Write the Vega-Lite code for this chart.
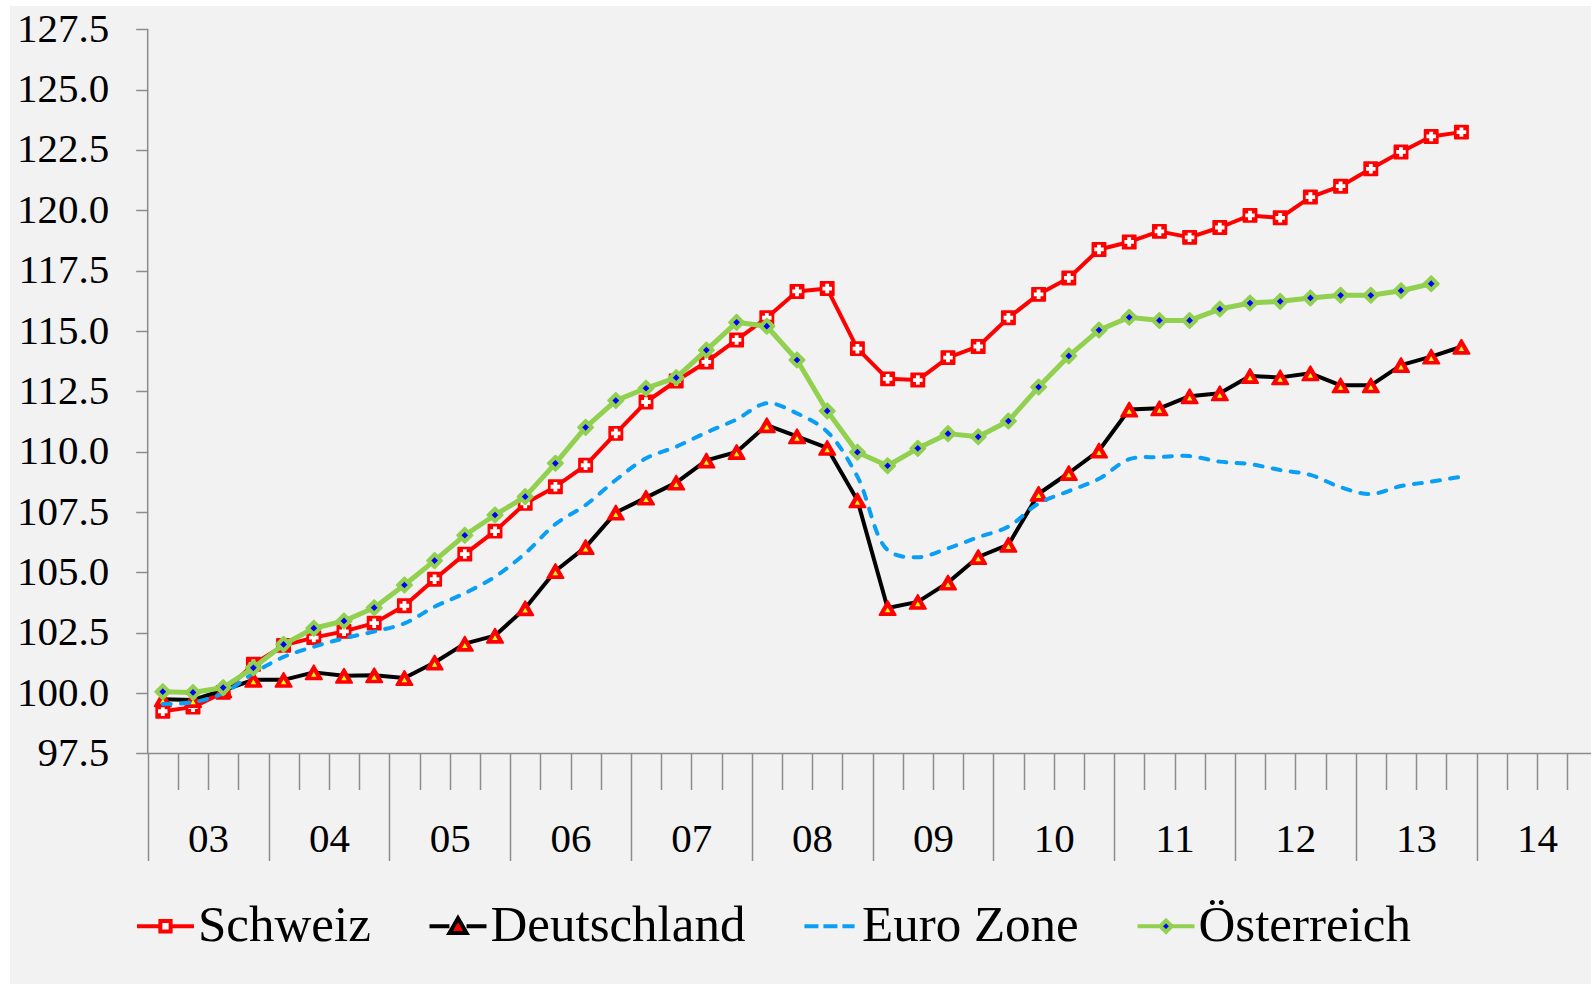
{
  "$schema": "https://vega.github.io/schema/vega-lite/v6.json",
  "width": 1581,
  "height": 978,
  "autosize": {"type": "none"},
  "padding": {"left": 10, "top": 6, "right": 0, "bottom": 0},
  "background": "white",
  "config": {
    "view": {"fill": "#f2f2f2", "stroke": null},
    "font": "Liberation Serif",
    "axis": {"labelFont": "Liberation Serif", "labelColor": "black", "labelFontSize": 41, "domain": false, "grid": false, "tickColor": "#8c8c8c", "tickWidth": 1.5}
  },
  "datasets": {
    "d": [
      {"t": 2003.125, "Schweiz": 99.25, "Deutschland": 99.75, "Euro Zone": 99.55, "Österreich": 100.06},
      {"t": 2003.375, "Schweiz": 99.42, "Deutschland": 99.72, "Euro Zone": 99.62, "Österreich": 100.03},
      {"t": 2003.625, "Schweiz": 100.03, "Deutschland": 100.12, "Euro Zone": 100.0, "Österreich": 100.23},
      {"t": 2003.875, "Schweiz": 101.2, "Deutschland": 100.55, "Euro Zone": 100.82, "Österreich": 101.05},
      {"t": 2004.125, "Schweiz": 101.98, "Deutschland": 100.55, "Euro Zone": 101.5, "Österreich": 102.02},
      {"t": 2004.375, "Schweiz": 102.3, "Deutschland": 100.86, "Euro Zone": 101.92, "Österreich": 102.69},
      {"t": 2004.625, "Schweiz": 102.56, "Deutschland": 100.72, "Euro Zone": 102.27, "Österreich": 102.99},
      {"t": 2004.875, "Schweiz": 102.9, "Deutschland": 100.74, "Euro Zone": 102.55, "Österreich": 103.54},
      {"t": 2005.125, "Schweiz": 103.62, "Deutschland": 100.63, "Euro Zone": 102.89, "Österreich": 104.48},
      {"t": 2005.375, "Schweiz": 104.72, "Deutschland": 101.27, "Euro Zone": 103.58, "Österreich": 105.49},
      {"t": 2005.625, "Schweiz": 105.76, "Deutschland": 102.05, "Euro Zone": 104.14, "Österreich": 106.54},
      {"t": 2005.875, "Schweiz": 106.71, "Deutschland": 102.38, "Euro Zone": 104.82, "Österreich": 107.38},
      {"t": 2006.125, "Schweiz": 107.86, "Deutschland": 103.52, "Euro Zone": 105.79, "Österreich": 108.14},
      {"t": 2006.375, "Schweiz": 108.55, "Deutschland": 105.06, "Euro Zone": 107.0, "Österreich": 109.52},
      {"t": 2006.625, "Schweiz": 109.44, "Deutschland": 106.05, "Euro Zone": 107.79, "Österreich": 111.01},
      {"t": 2006.875, "Schweiz": 110.76, "Deutschland": 107.48, "Euro Zone": 108.83, "Österreich": 112.12},
      {"t": 2007.125, "Schweiz": 112.06, "Deutschland": 108.1, "Euro Zone": 109.73, "Österreich": 112.63},
      {"t": 2007.375, "Schweiz": 112.93, "Deutschland": 108.72, "Euro Zone": 110.21, "Österreich": 113.07},
      {"t": 2007.625, "Schweiz": 113.72, "Deutschland": 109.64, "Euro Zone": 110.8, "Österreich": 114.21},
      {"t": 2007.875, "Schweiz": 114.63, "Deutschland": 109.99, "Euro Zone": 111.34, "Österreich": 115.36},
      {"t": 2008.125, "Schweiz": 115.55, "Deutschland": 111.1, "Euro Zone": 112.01, "Österreich": 115.2},
      {"t": 2008.375, "Schweiz": 116.64, "Deutschland": 110.64, "Euro Zone": 111.59, "Österreich": 113.8},
      {"t": 2008.625, "Schweiz": 116.76, "Deutschland": 110.16, "Euro Zone": 110.83, "Österreich": 111.69},
      {"t": 2008.875, "Schweiz": 114.27, "Deutschland": 107.99, "Euro Zone": 108.97, "Österreich": 109.98},
      {"t": 2009.125, "Schweiz": 113.02, "Deutschland": 103.53, "Euro Zone": 105.93, "Österreich": 109.42},
      {"t": 2009.375, "Schweiz": 112.97, "Deutschland": 103.78, "Euro Zone": 105.63, "Österreich": 110.14},
      {"t": 2009.625, "Schweiz": 113.9, "Deutschland": 104.58, "Euro Zone": 106.0, "Österreich": 110.75},
      {"t": 2009.875, "Schweiz": 114.36, "Deutschland": 105.64, "Euro Zone": 106.46, "Österreich": 110.62},
      {"t": 2010.125, "Schweiz": 115.55, "Deutschland": 106.15, "Euro Zone": 106.9, "Österreich": 111.27},
      {"t": 2010.375, "Schweiz": 116.52, "Deutschland": 108.26, "Euro Zone": 107.86, "Österreich": 112.68},
      {"t": 2010.625, "Schweiz": 117.2, "Deutschland": 109.12, "Euro Zone": 108.37, "Österreich": 113.97},
      {"t": 2010.875, "Schweiz": 118.38, "Deutschland": 110.05, "Euro Zone": 108.88, "Österreich": 115.04},
      {"t": 2011.125, "Schweiz": 118.69, "Deutschland": 111.75, "Euro Zone": 109.69, "Österreich": 115.57},
      {"t": 2011.375, "Schweiz": 119.13, "Deutschland": 111.8, "Euro Zone": 109.78, "Österreich": 115.44},
      {"t": 2011.625, "Schweiz": 118.88, "Deutschland": 112.3, "Euro Zone": 109.82, "Österreich": 115.44},
      {"t": 2011.875, "Schweiz": 119.29, "Deutschland": 112.42, "Euro Zone": 109.59, "Österreich": 115.91},
      {"t": 2012.125, "Schweiz": 119.79, "Deutschland": 113.14, "Euro Zone": 109.49, "Österreich": 116.16},
      {"t": 2012.375, "Schweiz": 119.69, "Deutschland": 113.08, "Euro Zone": 109.24, "Österreich": 116.23},
      {"t": 2012.625, "Schweiz": 120.55, "Deutschland": 113.25, "Euro Zone": 109.04, "Österreich": 116.37},
      {"t": 2012.875, "Schweiz": 121.0, "Deutschland": 112.75, "Euro Zone": 108.53, "Österreich": 116.48},
      {"t": 2013.125, "Schweiz": 121.72, "Deutschland": 112.75, "Euro Zone": 108.25, "Österreich": 116.48},
      {"t": 2013.375, "Schweiz": 122.42, "Deutschland": 113.59, "Euro Zone": 108.58, "Österreich": 116.67},
      {"t": 2013.625, "Schweiz": 123.06, "Deutschland": 113.94, "Euro Zone": 108.76, "Österreich": 116.96},
      {"t": 2013.875, "Schweiz": 123.24, "Deutschland": 114.35, "Euro Zone": 108.97, "Österreich": null}
    ]
  },
  "layer": [
    {
      "data": {"name": "d"},
      "encoding": {
        "x": {
          "field": "t", "type": "quantitative",
          "scale": {"domain": [2001.8601, 2014.9478], "zero": false, "nice": false},
          "axis": {
            "title": null, "orient": "bottom", "offset": -230.5,
            "values": [2003, 2003.25, 2003.5, 2003.75, 2004, 2004.25, 2004.5, 2004.75, 2005, 2005.25, 2005.5, 2005.75, 2006, 2006.25, 2006.5, 2006.75, 2007, 2007.25, 2007.5, 2007.75, 2008, 2008.25, 2008.5, 2008.75, 2009, 2009.25, 2009.5, 2009.75, 2010, 2010.25, 2010.5, 2010.75, 2011, 2011.25, 2011.5, 2011.75, 2012, 2012.25, 2012.5, 2012.75, 2013, 2013.25, 2013.5, 2013.75, 2014, 2014.25, 2014.5, 2014.75],
            "tickSize": {"condition": {"test": "datum.value % 1 === 0", "value": 107}, "value": 36},
            "labelExpr": "datum.value % 1 === 0.5 ? format(floor(datum.value) % 100, '02d') : ''",
            "labelOverlap": false, "labelFlush": false, "labelPadding": 30, "labelBaseline": "top"
          }
        },
        "y": {
          "field": "v", "type": "quantitative",
          "scale": {"domain": [87.951, 128.465], "zero": false, "nice": false},
          "axis": {
            "title": null, "orient": "left", "offset": -137.7,
            "values": [97.5, 100, 102.5, 105, 107.5, 110, 112.5, 115, 117.5, 120, 122.5, 125, 127.5],
            "format": ".1f", "tickSize": 12, "labelPadding": 27
          }
        }
      },
      "layer": [
        {
          "transform": [
            {"fold": ["Schweiz", "Deutschland", "Euro Zone", "Österreich"], "as": ["series", "v"]},
            {"filter": "false"}
          ],
          "mark": {"type": "point", "filled": false},
          "encoding": {
            "color": {
              "field": "series", "type": "nominal",
              "scale": {"domain": ["Schweiz", "Deutschland", "Euro Zone", "Österreich"], "range": ["#ff0000", "#000000", "#0a9ef5", "#92d050"]},
              "legend": {
                "orient": "none", "legendX": 125, "legendY": 889.5, "direction": "horizontal", "title": null,
                "labelFont": "Liberation Serif", "labelFontSize": 51, "labelColor": "black", "labelLimit": 600, "labelOffset": 2,
                "symbolSize": 3249, "symbolStrokeWidth": 4, "symbolOpacity": 1, "columnPadding": 50.5, "padding": 0
              }
            },
            "fill": {
              "field": "series", "type": "nominal",
              "scale": {"domain": ["Schweiz", "Deutschland", "Euro Zone", "Österreich"], "range": ["#ffffff", "#ff0000", "transparent", "#0000ff"]}
            },
            "shape": {
              "field": "series", "type": "nominal",
              "scale": {"domain": ["Schweiz", "Deutschland", "Euro Zone", "Österreich"], "range": [
                "M-1,0H-0.18M0.18,0H1M-0.18,-0.18H0.18V0.18H-0.18Z",
                "M-1,0H-0.3M0.3,0H1M-0.3,0.24L0,-0.28L0.3,0.24Z",
                "M-0.88,0H0.88",
                "M-1,0H-0.22M0.22,0H1M-0.2,0L0,-0.2L0.2,0L0,0.2Z"
              ]}
            },
            "strokeDash": {
              "field": "series", "type": "nominal",
              "scale": {"domain": ["Schweiz", "Deutschland", "Euro Zone", "Österreich"], "range": [[1, 0], [1, 0], [14, 5], [1, 0]]}
            }
          }
        },
        {
          "transform": [{"fold": ["Schweiz"], "as": ["series", "v"]}],
          "mark": {"type": "line", "strokeWidth": 4, "strokeJoin": "round"},
          "encoding": {"color": {"field": "series", "type": "nominal", "scale": {"domain": ["Schweiz", "Deutschland", "Euro Zone", "Österreich"], "range": ["#ff0000", "#000000", "#0a9ef5", "#92d050"]}}}
        },
        {
          "transform": [{"fold": ["Schweiz"], "as": ["series", "v"]}],
          "mark": {"type": "point", "shape": "square", "filled": true, "color": "#ff0000", "stroke": "#ff0000", "strokeWidth": 1.5, "strokeJoin": "round", "size": 180, "opacity": 1}
        },
        {
          "transform": [{"fold": ["Schweiz"], "as": ["series", "v"]}],
          "mark": {"type": "point", "shape": "cross", "filled": true, "color": "#ffffff", "size": 90, "opacity": 1}
        },
        {
          "transform": [{"fold": ["Deutschland"], "as": ["series", "v"]}],
          "mark": {"type": "line", "strokeWidth": 4, "strokeJoin": "round"},
          "encoding": {"color": {"field": "series", "type": "nominal", "scale": {"domain": ["Schweiz", "Deutschland", "Euro Zone", "Österreich"], "range": ["#ff0000", "#000000", "#0a9ef5", "#92d050"]}}}
        },
        {
          "transform": [{"fold": ["Deutschland"], "as": ["series", "v"]}],
          "mark": {"type": "point", "shape": "triangle-up", "filled": true, "color": "#ff0000", "stroke": "#ff0000", "strokeWidth": 2, "strokeJoin": "round", "size": 260, "opacity": 1}
        },
        {
          "transform": [{"fold": ["Deutschland"], "as": ["series", "v"]}],
          "mark": {"type": "point", "shape": "triangle-up", "filled": true, "color": "#ffff00", "size": 30, "yOffset": 2, "opacity": 1}
        },
        {
          "transform": [{"fold": ["Euro Zone"], "as": ["series", "v"]}],
          "mark": {"type": "line", "strokeWidth": 4, "interpolate": "catmull-rom", "strokeDash": [8, 10.3], "strokeCap": "round"},
          "encoding": {"color": {"field": "series", "type": "nominal", "scale": {"domain": ["Schweiz", "Deutschland", "Euro Zone", "Österreich"], "range": ["#ff0000", "#000000", "#0a9ef5", "#92d050"]}}}
        },
        {
          "transform": [{"fold": ["Österreich"], "as": ["series", "v"]}, {"filter": "datum.v != null"}],
          "mark": {"type": "line", "strokeWidth": 5, "strokeJoin": "round"},
          "encoding": {"color": {"field": "series", "type": "nominal", "scale": {"domain": ["Schweiz", "Deutschland", "Euro Zone", "Österreich"], "range": ["#ff0000", "#000000", "#0a9ef5", "#92d050"]}}}
        },
        {
          "transform": [{"fold": ["Österreich"], "as": ["series", "v"]}, {"filter": "datum.v != null"}],
          "mark": {"type": "point", "shape": "diamond", "filled": true, "color": "#92d050", "stroke": "#92d050", "strokeWidth": 2, "strokeJoin": "round", "size": 230, "opacity": 1}
        },
        {
          "transform": [{"fold": ["Österreich"], "as": ["series", "v"]}, {"filter": "datum.v != null"}],
          "mark": {"type": "point", "shape": "diamond", "filled": true, "color": "#0000ff", "size": 45, "opacity": 1}
        }
      ]
    },
    {
      "data": {"values": [{}]},
      "mark": {"type": "rule", "color": "#8c8c8c", "strokeWidth": 1.5},
      "encoding": {
        "x": {
          "datum": 2003, "type": "quantitative",
          "scale": {"domain": [2001.8601, 2014.9478], "zero": false, "nice": false},
          "axis": {
            "title": null, "orient": "bottom", "offset": -230.5,
            "values": [2003, 2003.25, 2003.5, 2003.75, 2004, 2004.25, 2004.5, 2004.75, 2005, 2005.25, 2005.5, 2005.75, 2006, 2006.25, 2006.5, 2006.75, 2007, 2007.25, 2007.5, 2007.75, 2008, 2008.25, 2008.5, 2008.75, 2009, 2009.25, 2009.5, 2009.75, 2010, 2010.25, 2010.5, 2010.75, 2011, 2011.25, 2011.5, 2011.75, 2012, 2012.25, 2012.5, 2012.75, 2013, 2013.25, 2013.5, 2013.75, 2014, 2014.25, 2014.5, 2014.75],
            "tickSize": {"condition": {"test": "datum.value % 1 === 0", "value": 107}, "value": 36},
            "labelExpr": "datum.value % 1 === 0.5 ? format(floor(datum.value) % 100, '02d') : ''",
            "labelOverlap": false, "labelFlush": false, "labelPadding": 30, "labelBaseline": "top"
          }
        },
        "y": {
          "datum": 97.5, "type": "quantitative",
          "scale": {"domain": [87.951, 128.465], "zero": false, "nice": false},
          "axis": {
            "title": null, "orient": "left", "offset": -137.7,
            "values": [97.5, 100, 102.5, 105, 107.5, 110, 112.5, 115, 117.5, 120, 122.5, 125, 127.5],
            "format": ".1f", "tickSize": 12, "labelPadding": 27
          }
        },
        "y2": {"datum": 127.5}
      }
    },
    {
      "data": {"values": [{}]},
      "mark": {"type": "rule", "color": "#8c8c8c", "strokeWidth": 1.5},
      "encoding": {
        "x": {
          "datum": 2003, "type": "quantitative",
          "scale": {"domain": [2001.8601, 2014.9478], "zero": false, "nice": false},
          "axis": {
            "title": null, "orient": "bottom", "offset": -230.5,
            "values": [2003, 2003.25, 2003.5, 2003.75, 2004, 2004.25, 2004.5, 2004.75, 2005, 2005.25, 2005.5, 2005.75, 2006, 2006.25, 2006.5, 2006.75, 2007, 2007.25, 2007.5, 2007.75, 2008, 2008.25, 2008.5, 2008.75, 2009, 2009.25, 2009.5, 2009.75, 2010, 2010.25, 2010.5, 2010.75, 2011, 2011.25, 2011.5, 2011.75, 2012, 2012.25, 2012.5, 2012.75, 2013, 2013.25, 2013.5, 2013.75, 2014, 2014.25, 2014.5, 2014.75],
            "tickSize": {"condition": {"test": "datum.value % 1 === 0", "value": 107}, "value": 36},
            "labelExpr": "datum.value % 1 === 0.5 ? format(floor(datum.value) % 100, '02d') : ''",
            "labelOverlap": false, "labelFlush": false, "labelPadding": 30, "labelBaseline": "top"
          }
        },
        "x2": {"datum": 2014.9478},
        "y": {
          "datum": 97.5, "type": "quantitative",
          "scale": {"domain": [87.951, 128.465], "zero": false, "nice": false},
          "axis": {
            "title": null, "orient": "left", "offset": -137.7,
            "values": [97.5, 100, 102.5, 105, 107.5, 110, 112.5, 115, 117.5, 120, 122.5, 125, 127.5],
            "format": ".1f", "tickSize": 12, "labelPadding": 27
          }
        }
      }
    }
  ]
}
